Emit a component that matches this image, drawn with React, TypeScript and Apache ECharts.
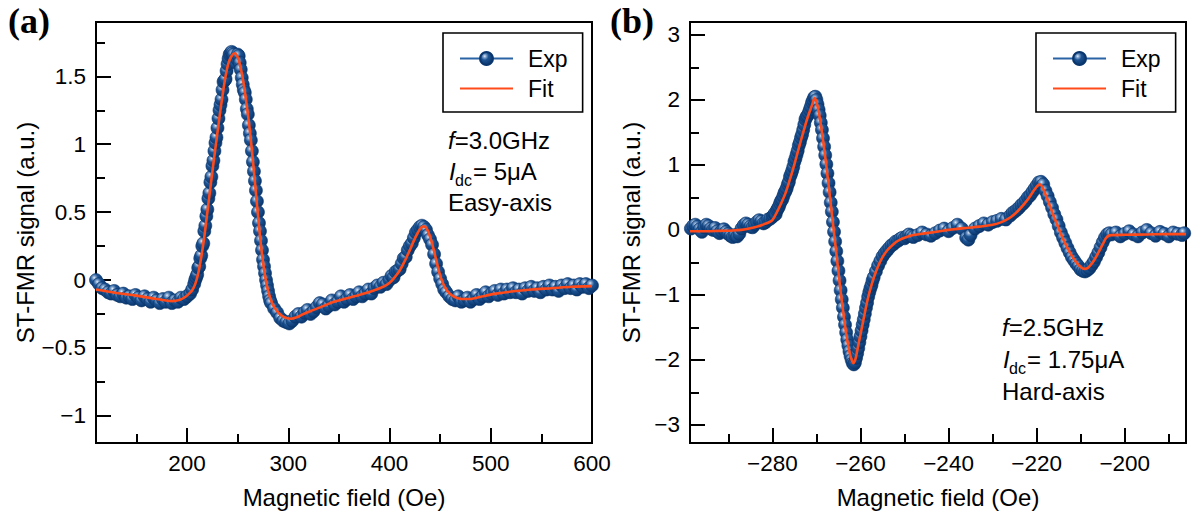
import React, { useEffect, useRef } from 'react';
import * as echarts from 'echarts';

// ---------- (a) easy-axis, f = 3.0 GHz ----------
const easyExp: [number, number][] = [
  [110, 0.0], [113, -0.03], [116, -0.06], [119, -0.07], [122, -0.09], [125, -0.1], [128, -0.08], [131, -0.11],
  [134, -0.12], [137, -0.1], [140, -0.13], [143, -0.12], [146, -0.14], [149, -0.11], [152, -0.13], [155, -0.15],
  [158, -0.12], [161, -0.14], [164, -0.16], [167, -0.13], [170, -0.15], [173, -0.17], [176, -0.14], [179, -0.16],
  [182, -0.13], [185, -0.17], [188, -0.15], [191, -0.16], [194, -0.13], [197, -0.14], [200, -0.12], [203, -0.1],
  [205, -0.07], [207, -0.03], [208, 0.0], [209, 0.02], [210, 0.04], [211, 0.09], [212, 0.1], [213, 0.16],
  [214, 0.18], [215, 0.25], [216, 0.27], [217, 0.36], [218, 0.4], [219, 0.47], [220, 0.52], [221, 0.6],
  [222, 0.64], [223, 0.72], [224, 0.76], [225, 0.84], [226, 0.88], [227, 0.95], [228, 1.01], [229, 1.05],
  [230, 1.12], [231, 1.19], [232, 1.25], [233, 1.29], [234, 1.33], [235, 1.4], [236, 1.46], [237, 1.47],
  [238, 1.48], [239, 1.54], [240, 1.59], [241, 1.63], [242, 1.66], [243, 1.67], [244, 1.68], [245, 1.67],
  [246, 1.66], [247, 1.62], [248, 1.6], [249, 1.63], [250, 1.66], [251, 1.65], [252, 1.6], [253, 1.55],
  [254, 1.49], [255, 1.44], [256, 1.4], [257, 1.38], [258, 1.33], [259, 1.26], [260, 1.22], [261, 1.14],
  [262, 1.08], [263, 1.03], [264, 0.95], [265, 0.87], [266, 0.8], [267, 0.73], [268, 0.66], [269, 0.58],
  [270, 0.5], [271, 0.42], [272, 0.36], [273, 0.29], [274, 0.22], [275, 0.15], [276, 0.1], [277, 0.05],
  [278, 0.0], [279, -0.04], [280, -0.08], [281, -0.12], [282, -0.15], [283, -0.17], [286, -0.21], [289, -0.24],
  [292, -0.28], [295, -0.3], [298, -0.31], [301, -0.32], [304, -0.3], [307, -0.27], [310, -0.25], [313, -0.27],
  [316, -0.24], [319, -0.22], [322, -0.25], [325, -0.23], [328, -0.2], [331, -0.17], [334, -0.18], [337, -0.21],
  [340, -0.19], [343, -0.15], [346, -0.18], [349, -0.16], [352, -0.12], [355, -0.16], [358, -0.14], [361, -0.11],
  [364, -0.14], [367, -0.12], [370, -0.09], [373, -0.12], [376, -0.1], [379, -0.07], [382, -0.1], [385, -0.06],
  [388, -0.04], [391, -0.05], [394, -0.02], [397, -0.03], [400, 0.0], [402, 0.03], [404, 0.02], [406, 0.06],
  [408, 0.07], [410, 0.08], [412, 0.12], [414, 0.16], [416, 0.17], [418, 0.22], [420, 0.25], [422, 0.27],
  [424, 0.31], [426, 0.35], [428, 0.37], [430, 0.39], [432, 0.4], [434, 0.39], [436, 0.37], [438, 0.33],
  [440, 0.3], [442, 0.26], [444, 0.19], [446, 0.12], [448, 0.06], [450, 0.01], [452, -0.03], [454, -0.07],
  [456, -0.09], [459, -0.12], [462, -0.14], [465, -0.15], [468, -0.12], [471, -0.16], [474, -0.15], [477, -0.13],
  [480, -0.16], [483, -0.14], [486, -0.11], [489, -0.14], [492, -0.12], [495, -0.09], [498, -0.12], [501, -0.1],
  [504, -0.08], [507, -0.11], [510, -0.07], [513, -0.1], [516, -0.07], [519, -0.09], [522, -0.06], [525, -0.09],
  [528, -0.07], [531, -0.1], [534, -0.06], [537, -0.08], [540, -0.05], [543, -0.08], [546, -0.06], [549, -0.09],
  [552, -0.05], [555, -0.07], [558, -0.04], [561, -0.07], [564, -0.05], [567, -0.08], [570, -0.04], [573, -0.06],
  [576, -0.03], [579, -0.06], [582, -0.04], [585, -0.07], [588, -0.03], [591, -0.05], [594, -0.03], [597, -0.06],
  [600, -0.04],
];

const easyFit: [number, number][] = [
  [110, -0.07], [130, -0.095], [150, -0.115], [170, -0.14], [185, -0.155], [193, -0.145], [198, -0.125],
  [202, -0.1], [205, -0.075], [208, -0.03], [211, 0.05], [214, 0.17], [217, 0.32], [220, 0.5], [223, 0.68],
  [226, 0.86], [229, 1.03], [232, 1.2], [235, 1.36], [238, 1.5], [241, 1.6], [244, 1.65], [247, 1.67],
  [250, 1.64], [253, 1.56], [256, 1.44], [259, 1.28], [262, 1.1], [265, 0.88], [268, 0.64], [271, 0.4],
  [274, 0.19], [277, 0.03], [280, -0.08], [284, -0.17], [288, -0.22], [293, -0.26], [298, -0.28], [303, -0.285],
  [308, -0.275], [315, -0.25], [325, -0.22], [335, -0.19], [345, -0.16], [355, -0.14], [365, -0.12],
  [375, -0.1], [385, -0.075], [395, -0.045], [400, -0.02], [405, 0.02], [410, 0.07], [415, 0.14], [420, 0.22],
  [424, 0.29], [428, 0.35], [431, 0.385], [434, 0.395], [437, 0.375], [440, 0.32], [443, 0.24], [446, 0.15],
  [449, 0.06], [452, -0.01], [456, -0.07], [460, -0.105], [466, -0.13], [472, -0.14], [478, -0.14],
  [486, -0.13], [495, -0.115], [505, -0.1], [520, -0.085], [540, -0.07], [560, -0.06], [580, -0.05], [600, -0.045],
];

const easyFieldTicks = [200, 300, 400, 500, 600];
const easyFieldMinor = [150, 250, 350, 450, 550];
const easySignalTicks = [-1, -0.5, 0, 0.5, 1, 1.5];
const easySignalMinor = [-0.75, -0.25, 0.25, 0.75, 1.25, 1.75];

// ---------- (b) hard-axis, f = 2.5 GHz ----------
const hardExp: [number, number][] = [
  [-298.5, 0.02], [-298, 0.06], [-297.5, 0.08], [-297, 0.05], [-296.5, 0.01], [-296, -0.03], [-295.5, 0.04],
  [-295, 0.08], [-294.5, 0.06], [-294, 0.02], [-293.5, 0.0], [-293, 0.03], [-292.5, -0.02], [-292, -0.05],
  [-291.5, -0.02], [-291, 0.01], [-290.5, -0.03], [-290, -0.06], [-289.5, -0.09], [-289, -0.11], [-288.5, -0.08],
  [-288, -0.1], [-287.5, -0.06], [-287, 0.02], [-286.5, 0.07], [-286, 0.1], [-285.5, 0.08], [-285, 0.05],
  [-284.5, 0.04], [-284, 0.08], [-283.5, 0.12], [-283, 0.15], [-282.5, 0.13], [-282, 0.1], [-281.5, 0.12],
  [-281, 0.16], [-280.5, 0.17], [-280, 0.2], [-279.75, 0.22], [-279.5, 0.25], [-279.25, 0.24], [-279, 0.3],
  [-278.75, 0.33], [-278.5, 0.36], [-278.25, 0.41], [-278, 0.45], [-277.75, 0.47], [-277.5, 0.52],
  [-277.25, 0.57], [-277, 0.6], [-276.75, 0.64], [-276.5, 0.7], [-276.25, 0.74], [-276, 0.82], [-275.75, 0.86],
  [-275.5, 0.91], [-275.25, 0.97], [-275, 1.05], [-274.75, 1.1], [-274.5, 1.16], [-274.25, 1.22], [-274, 1.3],
  [-273.75, 1.35], [-273.5, 1.42], [-273.25, 1.47], [-273, 1.54], [-272.75, 1.62], [-272.5, 1.7],
  [-272.25, 1.74], [-272, 1.76], [-271.75, 1.8], [-271.5, 1.85], [-271.25, 1.9], [-271, 1.96], [-270.75, 2.0],
  [-270.5, 2.04], [-270.25, 2.05], [-270, 2.0], [-269.75, 1.93], [-269.5, 1.85], [-269.25, 1.76], [-269, 1.65],
  [-268.75, 1.54], [-268.5, 1.41], [-268.25, 1.28], [-268, 1.15], [-267.75, 1.01], [-267.5, 0.87],
  [-267.25, 0.72], [-267, 0.58], [-266.75, 0.42], [-266.5, 0.28], [-266.25, 0.12], [-266, -0.03],
  [-265.75, -0.18], [-265.5, -0.33], [-265.25, -0.48], [-265, -0.63], [-264.75, -0.78], [-264.5, -0.93],
  [-264.25, -1.07], [-264, -1.2], [-263.75, -1.34], [-263.5, -1.46], [-263.25, -1.58], [-263, -1.69],
  [-262.75, -1.78], [-262.5, -1.87], [-262.25, -1.94], [-262, -2.0], [-261.75, -2.05], [-261.5, -2.07],
  [-261.25, -2.04], [-261, -1.97], [-260.75, -1.9], [-260.5, -1.82], [-260.25, -1.73], [-260, -1.64],
  [-259.75, -1.55], [-259.5, -1.46], [-259.25, -1.38], [-259, -1.29], [-258.75, -1.2], [-258.5, -1.12],
  [-258.25, -1.03], [-258, -0.96], [-257.75, -0.9], [-257.5, -0.85], [-257.25, -0.78], [-257, -0.73],
  [-256.5, -0.64], [-256, -0.55], [-255.5, -0.48], [-255, -0.41], [-254.5, -0.36], [-254, -0.32],
  [-253.5, -0.28], [-253, -0.24], [-252.5, -0.22], [-252, -0.18], [-251.5, -0.17], [-251, -0.14],
  [-250.5, -0.12], [-250, -0.13], [-249.5, -0.1], [-249, -0.07], [-248.5, -0.09], [-248, -0.11], [-247, -0.08],
  [-246, -0.04], [-245, -0.07], [-244, -0.09], [-243, -0.05], [-242, -0.01], [-241, 0.02], [-240, -0.02],
  [-239, 0.03], [-238, 0.08], [-237, 0.02], [-236, -0.12], [-235.5, -0.15], [-235, -0.08], [-234, 0.02],
  [-233, 0.06], [-232, 0.1], [-231, 0.08], [-230, 0.12], [-229, 0.14], [-228, 0.17], [-227, 0.16], [-226, 0.22],
  [-225.5, 0.26], [-225, 0.28], [-224.5, 0.31], [-224, 0.34], [-223.5, 0.38], [-223, 0.41], [-222.5, 0.45],
  [-222, 0.5], [-221.5, 0.53], [-221, 0.58], [-220.5, 0.63], [-220, 0.68], [-219.5, 0.73], [-219, 0.74],
  [-218.5, 0.7], [-218, 0.6], [-217.5, 0.52], [-217, 0.43], [-216.5, 0.34], [-216, 0.24], [-215.5, 0.16],
  [-215, 0.06], [-214.5, -0.04], [-214, -0.12], [-213.5, -0.2], [-213, -0.28], [-212.5, -0.35], [-212, -0.42],
  [-211.5, -0.47], [-211, -0.52], [-210.5, -0.56], [-210, -0.61], [-209.5, -0.63], [-209, -0.64],
  [-208.5, -0.62], [-208, -0.59], [-207.5, -0.54], [-207, -0.49], [-206.5, -0.42], [-206, -0.35],
  [-205.5, -0.27], [-205, -0.19], [-204.5, -0.12], [-204, -0.07], [-203.5, -0.05], [-203, -0.07], [-202, -0.04],
  [-201, -0.1], [-200, -0.06], [-199, -0.02], [-198, -0.07], [-197, -0.1], [-196, -0.04], [-195, 0.0],
  [-194, -0.05], [-193, -0.09], [-192, -0.03], [-191, -0.06], [-190, -0.1], [-189, -0.04], [-188, -0.06],
  [-187, -0.08], [-186.5, -0.05],
];

const hardFit: [number, number][] = [
  [-298.7, -0.02], [-295, -0.02], [-292, -0.015], [-289, -0.01], [-287, 0.0], [-285, 0.025], [-283, 0.06],
  [-282, 0.085], [-281, 0.11], [-280, 0.15], [-279, 0.27], [-278, 0.41], [-277, 0.57], [-276, 0.78],
  [-275, 1.01], [-274, 1.26], [-273, 1.5], [-272, 1.73], [-271, 1.92], [-270.4, 2.03], [-270, 1.97],
  [-269.5, 1.82], [-269, 1.62], [-268.5, 1.38], [-268, 1.12], [-267.5, 0.84], [-267, 0.55], [-266.5, 0.25],
  [-266, -0.05], [-265.5, -0.35], [-265, -0.65], [-264.5, -0.95], [-264, -1.22], [-263.5, -1.48], [-263, -1.7],
  [-262.5, -1.88], [-262, -2.0], [-261.6, -2.05], [-261.2, -2.0], [-260.8, -1.88], [-260.4, -1.74],
  [-260, -1.61], [-259.5, -1.44], [-259, -1.27], [-258.5, -1.11], [-258, -0.97], [-257.5, -0.85], [-257, -0.74],
  [-256, -0.56], [-255, -0.42], [-254, -0.32], [-253, -0.25], [-252, -0.19], [-251, -0.15], [-250, -0.12],
  [-248, -0.08], [-245, -0.05], [-242, -0.02], [-240, 0.0], [-236, 0.03], [-233, 0.05], [-230, 0.08],
  [-228, 0.12], [-226, 0.19], [-224, 0.31], [-222, 0.47], [-220.5, 0.62], [-219.8, 0.68], [-219.3, 0.7],
  [-218.8, 0.67], [-218.3, 0.6], [-217.5, 0.46], [-217, 0.37], [-216, 0.19], [-215, 0.02], [-214, -0.14],
  [-213, -0.28], [-212, -0.4], [-211, -0.5], [-210, -0.57], [-209.2, -0.6], [-208.5, -0.59], [-208, -0.56],
  [-207, -0.47], [-206, -0.35], [-205, -0.22], [-204.3, -0.13], [-203.7, -0.09], [-203, -0.08], [-200, -0.075],
  [-195, -0.07], [-190, -0.065], [-186.1, -0.065],
];

const hardFieldTicks = [-280, -260, -240, -220, -200];
const hardFieldMinor = [-290, -270, -250, -230, -210, -190];
const hardSignalTicks = [-3, -2, -1, 0, 1, 2, 3];
const hardSignalMinor = [-2.5, -1.5, -0.5, 0.5, 1.5, 2.5];

const SANS = '"Liberation Sans", Arial, Helvetica, sans-serif';
const SERIF = '"Liberation Serif", "Times New Roman", serif';
const INK = '#000';
const FIT_RED = '#ff4a1a';

const minus = (v: number) => String(v).replace('-', '\u2212');

// shaded sphere used for the measured points
const ball = () =>
  new echarts.graphic.RadialGradient(0.36, 0.32, 0.72, [
    { offset: 0, color: '#e4ecf6' },
    { offset: 0.16, color: '#86a7cf' },
    { offset: 0.42, color: '#1d5393' },
    { offset: 1, color: '#093469' },
  ]);

const tickLine = { color: INK, width: 2 };

function fieldAxes(gridIndex: number, min: number, max: number, major: number[], minor: number[]) {
  return [
    {
      type: 'value', gridIndex, min, max, position: 'bottom',
      axisLine: { show: false, onZero: false }, splitLine: { show: false },
      axisTick: { show: true, inside: true, length: 15, customValues: major, lineStyle: tickLine },
      axisLabel: { customValues: major, formatter: minus, margin: 9, color: INK, fontSize: 22.5, fontFamily: SANS },
      name: 'Magnetic field (Oe)', nameLocation: 'middle', nameGap: 42,
      nameTextStyle: { color: INK, fontSize: 24, fontFamily: SANS },
    },
    {
      type: 'value', gridIndex, min, max, position: 'bottom',
      axisLine: { show: false, onZero: false }, splitLine: { show: false },
      axisTick: { show: true, inside: true, length: 9, customValues: minor, lineStyle: tickLine },
      axisLabel: { show: false },
    },
  ];
}

function signalAxes(gridIndex: number, min: number, max: number, major: number[], minor: number[], nameGap: number) {
  return [
    {
      type: 'value', gridIndex, min, max, position: 'left',
      axisLine: { show: false, onZero: false }, splitLine: { show: false },
      axisTick: { show: true, inside: true, length: 15, customValues: major, lineStyle: tickLine },
      axisLabel: { customValues: major, formatter: minus, margin: 10, color: INK, fontSize: 22.5, fontFamily: SANS },
      name: 'ST-FMR signal (a.u.)', nameLocation: 'middle', nameGap,
      nameTextStyle: { color: INK, fontSize: 24, fontFamily: SANS },
    },
    {
      type: 'value', gridIndex, min, max, position: 'left',
      axisLine: { show: false, onZero: false }, splitLine: { show: false },
      axisTick: { show: true, inside: true, length: 9, customValues: minor, lineStyle: tickLine },
      axisLabel: { show: false },
    },
  ];
}

function panelSeries(axisIndex: number, exp: [number, number][], fit: [number, number][]) {
  return [
    {
      name: 'Exp', type: 'line', data: exp, xAxisIndex: axisIndex, yAxisIndex: axisIndex,
      symbol: 'circle', symbolSize: 13, showSymbol: true, showAllSymbol: true,
      lineStyle: { color: '#2a64a6', width: 1 },
      itemStyle: { color: ball(), borderColor: '#0a366d', borderWidth: 0.6 },
      emphasis: { disabled: true }, z: 2,
    },
    {
      name: 'Fit', type: 'line', data: fit, xAxisIndex: axisIndex, yAxisIndex: axisIndex,
      showSymbol: false, symbol: 'none', smooth: 0.35,
      lineStyle: { color: FIT_RED, width: 2.6 }, itemStyle: { color: FIT_RED },
      emphasis: { disabled: true }, z: 3,
    },
  ];
}

function legendAt(left: number) {
  return {
    data: ['Exp', { name: 'Fit', itemStyle: { opacity: 0 } }],
    orient: 'vertical', left, top: 33,
    itemWidth: 53, itemHeight: 16, itemGap: 7,
    padding: [14, 15, 12, 16],
    borderColor: INK, borderWidth: 1.6, backgroundColor: '#fff',
    textStyle: { color: INK, fontSize: 23, fontFamily: SANS, padding: [0, 0, 0, 10] },
    selectedMode: false,
  };
}

function conditions(x: number, y0: number, gap: number, freq: string, current: string, axisKind: string) {
  const base = { fill: INK, fontSize: 24, fontFamily: SANS, textVerticalAlign: 'middle' };
  return [
    {
      type: 'text', x, y: y0,
      style: { ...base, text: '{it|f}=' + freq, rich: { it: { fontStyle: 'italic', fontSize: 24, fontFamily: SANS } } },
    },
    { type: 'text', x: x + 1, y: y0 + gap, style: { ...base, text: 'I', fontStyle: 'italic' } },
    { type: 'text', x: x + 7, y: y0 + gap + 9, style: { ...base, text: 'dc', fontSize: 16 } },
    { type: 'text', x: x + 25, y: y0 + gap, style: { ...base, text: '= ' + current } },
    { type: 'text', x, y: y0 + 2 * gap, style: { ...base, text: axisKind } },
  ];
}

export default function App() {
  const ref = useRef<HTMLDivElement>(null);

  useEffect(() => {
    if (!ref.current) return;
    const chart = echarts.init(ref.current, undefined, { renderer: 'svg' });
    const gridStyle = { show: true, borderColor: INK, borderWidth: 2, backgroundColor: 'transparent', containLabel: false };
    chart.setOption({
      animation: false,
      backgroundColor: '#fff',
      grid: [
        { ...gridStyle, left: 96, top: 22, width: 496, height: 421 },
        { ...gridStyle, left: 690, top: 22, width: 496, height: 421 },
      ],
      xAxis: [
        ...fieldAxes(0, 110, 600, easyFieldTicks, easyFieldMinor),
        ...fieldAxes(1, -298.7, -186.1, hardFieldTicks, hardFieldMinor),
      ],
      yAxis: [
        ...signalAxes(0, -1.2, 1.9, easySignalTicks, easySignalMinor, 56),
        ...signalAxes(1, -3.28, 3.2, hardSignalTicks, hardSignalMinor, 47),
      ],
      legend: [legendAt(443), legendAt(1036)],
      series: [...panelSeries(0, easyExp, easyFit), ...panelSeries(2, hardExp, hardFit)],
      graphic: [
        { type: 'text', x: 8, y: 21, style: { text: '(a)', fill: INK, font: `bold 36px ${SERIF}`, textVerticalAlign: 'middle' } },
        { type: 'text', x: 610, y: 21, style: { text: '(b)', fill: INK, font: `bold 36px ${SERIF}`, textVerticalAlign: 'middle' } },
        ...conditions(448, 140, 31, '3.0GHz', '5\u03bcA', 'Easy-axis'),
        ...conditions(1002, 327, 32, '2.5GHz', '1.75\u03bcA', 'Hard-axis'),
      ],
    });
    return () => chart.dispose();
  }, []);

  return <div ref={ref} style={{ position: 'fixed', left: 0, top: 0, width: 1194, height: 516 }} />;
}
